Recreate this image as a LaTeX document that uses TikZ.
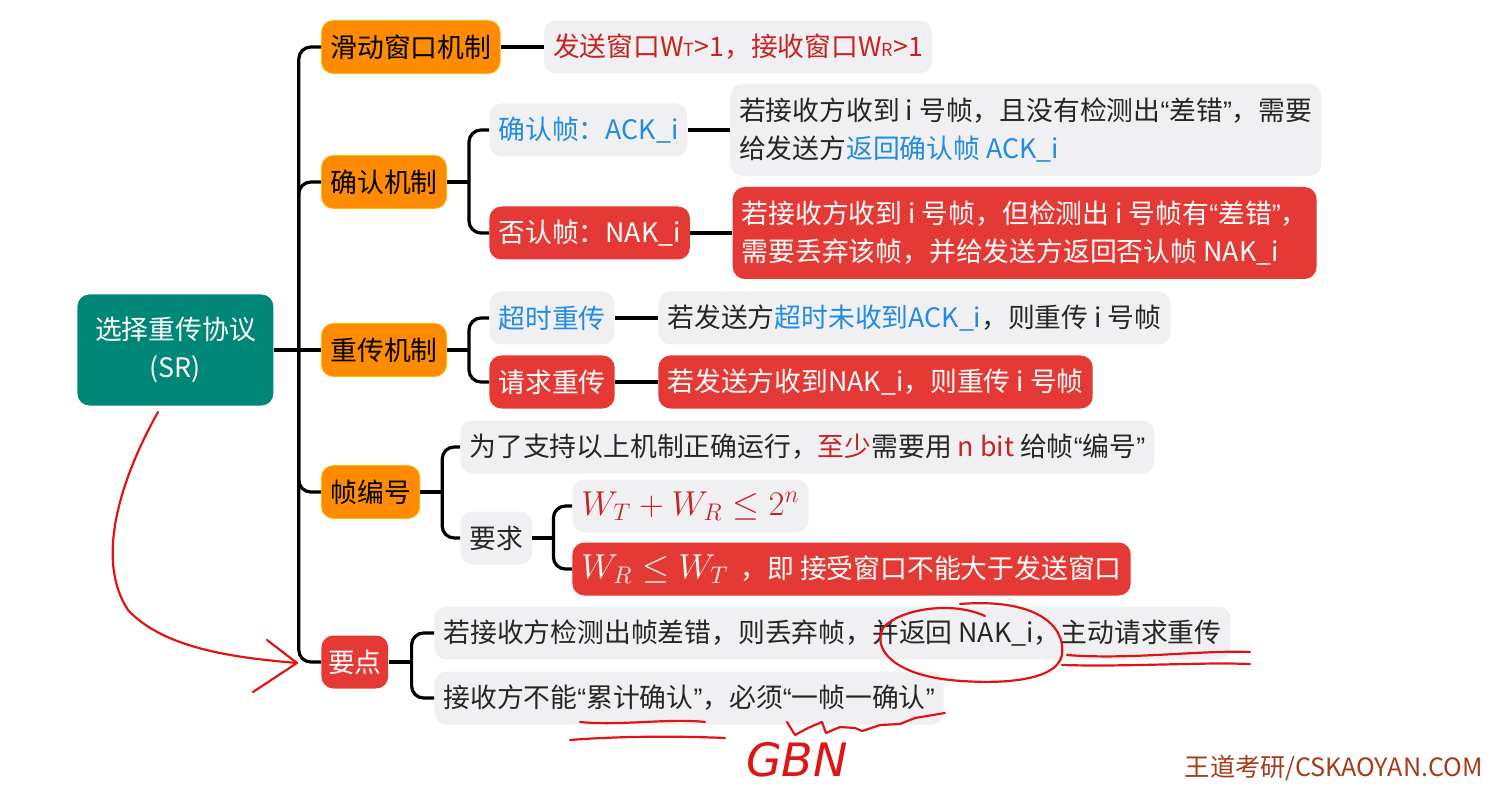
\documentclass[tikz,border=0pt]{standalone}
\usepackage[no-math]{fontspec}
\setmainfont{Noto Sans CJK SC}
\newfontfamily\handfont{DejaVu Sans}
\newfontfamily\quotefont{Liberation Sans}
\usetikzlibrary{positioning}

\definecolor{rootteal}{RGB}{0,135,120}
\definecolor{midorange}{RGB}{255,140,0}
\definecolor{hotred}{RGB}{229,57,53}
\definecolor{softgray}{RGB}{240,240,243}
\definecolor{inkblue}{RGB}{33,140,225}
\definecolor{inkred}{RGB}{200,35,35}
\definecolor{penred}{RGB}{225,20,20}
\definecolor{markbrown}{RGB}{165,60,25}

\newcommand{\hi}[1]{\textcolor{inkblue}{#1}}
\newcommand{\rd}[1]{\textcolor{inkred}{#1}}
\newcommand{\capsub}[1]{{\fontsize{9}{9}\selectfont #1}}
\newcommand{\quoted}[1]{{\quotefont “}#1{\quotefont ”}}

\begin{document}
\begin{tikzpicture}[x=0.5pt, y=-0.5pt, font=\fontsize{13.4}{19}\selectfont,
  box/.style={rounded corners=6pt, inner xsep=4.5pt, inner ysep=0pt, minimum height=26.5pt, align=left},
  root/.style={box, fill=rootteal, text=white, minimum width=98pt, minimum height=55.5pt, align=center},
  mid/.style={box, fill=midorange, draw=orange!55!yellow, text=black},
  hot/.style={box, fill=hotred, text=white},
  soft/.style={box, fill=softgray, text=black!85},
  link/.style={line width=1.6pt, rounded corners=6pt},
  pen/.style={penred, line width=1.1pt, line cap=round, line join=round}]

\useasboundingbox (0,0) rectangle (1505,786);

% root and first level
\node[root, anchor=west] (sr) at (77,350) {选择重传协议\\(SR)};
\node[mid, anchor=west] (slide) at (321,47) {滑动窗口机制};
\node[mid, anchor=west] (ack) at (321,182) {确认机制};
\node[mid, anchor=west] (resend) at (321,350) {重传机制};
\node[mid, anchor=west] (seq) at (321,492) {帧编号};
\node[hot, anchor=west, inner xsep=3.3pt] (key) at (321,662) {要点};

% sliding window
\node[soft, right=21.5pt of slide, text=inkred] (slidetxt) {发送窗口W\capsub{T}>1，接收窗口W\capsub{R}>1};

% ack / nak
\node[soft, anchor=west, text=inkblue] (ackf) at (489,130) {确认帧：ACK\_i};
\node[soft, right=21pt of ackf, minimum height=46pt] (ackftxt) {若接收方收到 i 号帧，且没有检测出\quoted{差错}，需要\\给发送方\hi{返回确认帧 ACK\_i}};
\node[hot, anchor=west] (nakf) at (489,233) {否认帧：NAK\_i};
\node[hot, right=21pt of nakf, minimum height=46pt] (nakftxt) {若接收方收到 i 号帧，但检测出 i 号帧有\quoted{差错}，\\需要丢弃该帧，并给发送方返回否认帧 NAK\_i};

% retransmission
\node[soft, anchor=west, text=inkblue] (tout) at (489,318) {超时重传};
\node[soft, right=21.5pt of tout] (touttxt) {若发送方\hi{超时未收到ACK\_i}，则重传 i 号帧};
\node[hot, anchor=west] (req) at (489,382) {请求重传};
\node[hot, right=21.5pt of req] (reqtxt) {若发送方收到NAK\_i，则重传 i 号帧};

% frame numbers
\node[soft, anchor=west] (seqtxt) at (460,447) {为了支持以上机制正确运行，\rd{至少}需要用 \rd{n bit} 给帧\quoted{编号}};
\node[soft, anchor=west] (need) at (460,538) {要求};
\node[soft, anchor=west, text=inkred, font=\fontsize{16.6}{19}\selectfont] (rule1) at (572,506) {$W_T+W_R\le 2^n$};
\node[hot, anchor=west] (rule2) at (572,569) {{\fontsize{16.6}{19}\selectfont$W_R\le W_T$}\ \ ，即 接受窗口不能大于发送窗口};

% key points
\node[soft, anchor=west] (key1) at (434,633) {若接收方检测出帧差错，则丢弃帧，并返回 NAK\_i，主动请求重传};
\node[soft, anchor=west] (key2) at (434,698) {接收方不能\quoted{累计确认}，必须\quoted{一帧一确认}};

% connectors
\coordinate[right=12.5pt of sr] (j0);
\draw[link] (sr) -- (j0) -- (resend);
\foreach \n in {slide,ack,seq,key} \draw[link] (j0) |- (\n.west);
\draw[link] (slide) -- (slidetxt);

\coordinate[right=11pt of ack] (j1);
\draw[link] (ack) -- (j1);
\foreach \n in {ackf,nakf} \draw[link] (j1) |- (\n.west);
\draw[link] (ackf) -- (ackftxt);
\draw[link] (nakf) -- (nakftxt);

\coordinate[right=11pt of resend] (j2);
\draw[link] (resend) -- (j2);
\foreach \n in {tout,req} \draw[link] (j2) |- (\n.west);
\draw[link] (tout) -- (touttxt);
\draw[link] (req) -- (reqtxt);

\coordinate[right=11pt of seq] (j3);
\draw[link] (seq) -- (j3);
\foreach \n in {seqtxt,need} \draw[link] (j3) |- (\n.west);

\coordinate[right=10.5pt of need] (j4);
\draw[link] (need) -- (j4);
\foreach \n in {rule1,rule2} \draw[link] (j4) |- (\n.west);

\coordinate[right=11.5pt of key] (j5);
\draw[link] (key) -- (j5);
\foreach \n in {key1,key2} \draw[link] (j5) |- (\n.west);

% watermark
\node[anchor=east, text=markbrown, font=\fontsize{12.6}{14}\selectfont] (mark) at (1490,768) {王道考研/CSKAOYAN.COM};

% pen marks
\draw[pen] (158,412) .. controls (120,480) and (95,560) .. (128,610) .. controls (165,650) and (240,658) .. (297,663);
\draw[pen] (267,640) -- (297,663) -- (253,692);
\draw[pen] (960,604) .. controls (1035,598) and (1066,625) .. (1062,655) .. controls (1056,684) and (990,684) .. (950,680) .. controls (895,674) and (872,650) .. (883,628) .. controls (898,610) and (950,600) .. (985,616);
\draw[pen] (1067,655) .. controls (1130,660) and (1200,650) .. (1250,652);
\draw[pen] (1062,665) .. controls (1130,667) and (1200,662) .. (1250,664);
\draw[pen] (580,722) .. controls (620,726) and (670,718) .. (705,722);
\draw[pen] (570,740) .. controls (620,736) and (680,736) .. (725,738);
\draw[pen] (787,722) -- (795,735) -- (808,728) -- (822,722) -- (826,733) -- (840,727) -- (855,728) -- (862,731) -- (880,725) -- (900,724) -- (915,718) -- (945,713);
\node[text=penred, font=\handfont\itshape\fontsize{23}{23}\selectfont] (gbn) at (797,760) {GBN};

\end{tikzpicture}
\end{document}
